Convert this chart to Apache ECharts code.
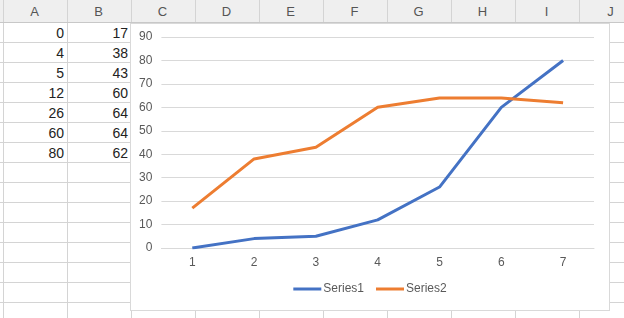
<!DOCTYPE html>
<html><head><meta charset="utf-8">
<script src="https://cdn.jsdelivr.net/npm/echarts@6/dist/echarts.min.js"></script>
<style>
html,body{margin:0;padding:0;width:624px;height:318px;overflow:hidden;background:#fff;font-family:"Liberation Sans",Arial,sans-serif;}
#sheet{position:absolute;left:0;top:0;width:624px;height:318px;}
.hl{position:absolute;height:1px;background:#d4d4d4;}
.vl{position:absolute;width:1px;background:#d4d4d4;}
.hdr{position:absolute;top:0;height:22px;background:#efefef;}
.ht{position:absolute;top:4px;width:64px;text-align:center;font-size:13px;color:#555;}
.cell{position:absolute;width:60px;text-align:right;font-size:14px;color:#222;}
#chart{position:absolute;left:130px;top:23px;width:478px;height:286px;border:1px solid #d9d9d9;background:#fff;}
</style></head>
<body>
<div id="sheet"></div>
<div id="chart"></div>
<script>
var categories = ['1','2','3','4','5','6','7'];
var series1 = [0, 4, 5, 12, 26, 60, 80];
var series2 = [17, 38, 43, 60, 64, 64, 62];
var seriesNames = ['Series1', 'Series2'];
var columnLetters = ['A','B','C','D','E','F','G','H','I','J'];

// spreadsheet background
var sheet = document.getElementById('sheet');
var html = '<div class="hdr" style="left:0;width:624px"></div>';
var colX0 = 2.5, colW = 64, rowY0 = 21.7, rowH = 20;
for (var c = 0; c < columnLetters.length; c++) {
  var x = colX0 + c * colW;
  html += '<div class="ht" style="left:' + x + 'px">' + columnLetters[c] + '</div>';
}
for (var c = 0; c <= 10; c++) {
  var x = Math.round(colX0 + c * colW);
  html += '<div class="vl" style="left:' + x + 'px;top:0;height:318px;' + '"></div>';
}
html += '<div class="hl" style="left:0;top:' + Math.round(rowY0) + 'px;width:624px;background:#c8c8c8"></div>';
for (var r = 1; r <= 15; r++) {
  var y = Math.round(rowY0 + r * rowH);
  html += '<div class="hl" style="left:0;top:' + y + 'px;width:624px"></div>';
}
for (var i = 0; i < series1.length; i++) {
  var y = Math.round(rowY0 + i * rowH) + 3;
  html += '<div class="cell" style="left:4px;top:' + y + 'px">' + series1[i] + '</div>';
  html += '<div class="cell" style="left:68px;top:' + y + 'px">' + series2[i] + '</div>';
}
sheet.innerHTML = html;

var chart = echarts.init(document.getElementById('chart'), null, {renderer:'canvas'});
var txt = '#595959';
chart.setOption({
  animation: false,
  backgroundColor: '#fff',
  grid: {left: 30.4, right: 15, top: 13, bottom: 62, containLabel: false},
  xAxis: {
    type: 'category', data: categories, boundaryGap: true,
    axisLine: {show: true, lineStyle: {color: '#d9d9d9', width: 1}},
    axisTick: {show: false},
    axisLabel: {color: txt, fontSize: 12, margin: 9, fontFamily: 'Liberation Sans'}
  },
  yAxis: {
    type: 'value', min: 0, max: 90, interval: 10,
    axisLine: {show: false}, axisTick: {show: false},
    splitLine: {lineStyle: {color: '#d9d9d9', width: 1}},
    axisLabel: {color: txt, fontSize: 12, margin: 9, fontFamily: 'Liberation Sans'}
  },
  legend: {
    bottom: 10, left: 'center', itemWidth: 28, itemHeight: 3, itemGap: 12,
    icon: 'rect',
    textStyle: {color: txt, fontSize: 12, fontFamily: 'Liberation Sans', padding: [0,0,0,-3]},
    data: seriesNames
  },
  series: [
    {name: seriesNames[0], type: 'line', data: series1, showSymbol: false, symbol: 'none',
     lineStyle: {color: '#4472C4', width: 3}, itemStyle: {color: '#4472C4'}},
    {name: seriesNames[1], type: 'line', data: series2, showSymbol: false, symbol: 'none',
     lineStyle: {color: '#ED7D31', width: 3}, itemStyle: {color: '#ED7D31'}}
  ]
});
</script>
</body></html>
